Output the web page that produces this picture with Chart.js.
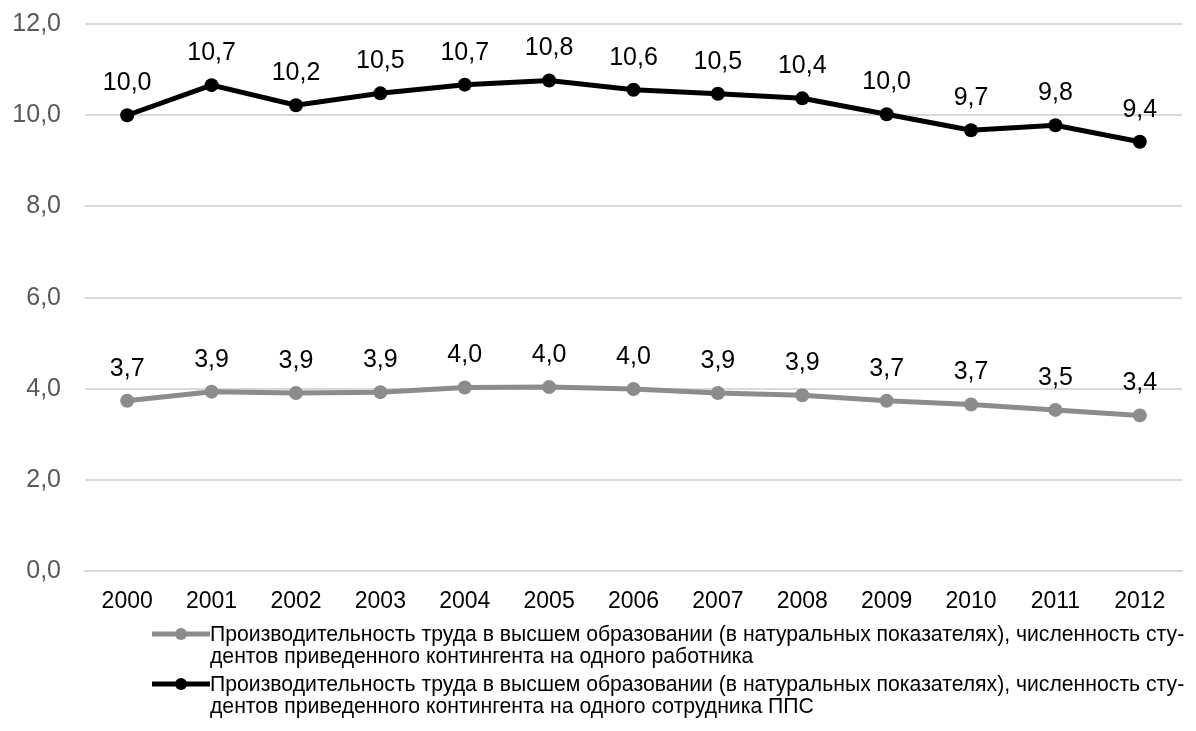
<!DOCTYPE html>
<html lang="ru">
<head>
<meta charset="utf-8">
<script src="https://cdn.jsdelivr.net/npm/chart.js@4.4.0/dist/chart.umd.min.js"></script>
<style>
    body { margin: 0; background: #fff; font-family: "Liberation Sans", Arial, sans-serif; overflow: hidden; }
    #wrap { position: absolute; left: 0; top: 0; width: 1196px; height: 631px; }
    #legend { position: absolute; left: 152px; top: 623px; width: 1044px; }
    .item { display: flex; align-items: flex-start; margin-bottom: 6px; }
    .item canvas { flex: none; margin-top: 3px; }
    .item span { font-size: 21.2px; line-height: 22px; color: #000; white-space: nowrap; }
</style>
</head>
<body>
<div id="wrap"><canvas id="chart"></canvas></div>
<div id="legend"></div>
<script>
// Years and series
const years = ['2000', '2001', '2002', '2003', '2004', '2005', '2006', '2007', '2008', '2009', '2010', '2011', '2012'];
const perWorker = [3.74, 3.94, 3.91, 3.93, 4.03, 4.04, 4.0, 3.91, 3.86, 3.74, 3.66, 3.54, 3.42];
const perTeacher = [10.0, 10.66, 10.22, 10.48, 10.67, 10.76, 10.56, 10.47, 10.37, 10.02, 9.67, 9.78, 9.42];
const yTicks = [0, 2, 4, 6, 8, 10, 12];
const seriesNames = [
    'Производительность труда в высшем образовании (в натуральных показателях), численность сту-\nдентов приведенного контингента на одного работника',
    'Производительность труда в высшем образовании (в натуральных показателях), численность сту-\nдентов приведенного контингента на одного сотрудника ППС'
];
const seriesColors = ['#8c8c8c', '#000000'];

const fmt = v => v.toFixed(1).replace('.', ',');

// Draw the value labels above each point
const valueLabels = {
    id: 'valueLabels',
    afterDatasetsDraw(chart) {
        const ctx = chart.ctx;
        ctx.save();
        ctx.font = '25px "Liberation Sans", Arial, sans-serif';
        ctx.fillStyle = '#000';
        ctx.textAlign = 'center';
        ctx.textBaseline = 'middle';
        chart.data.datasets.forEach((ds, i) => {
            chart.getDatasetMeta(i).data.forEach((pt, j) => {
                ctx.fillText(fmt(ds.data[j]), pt.x, pt.y - 32);
            });
        });
        ctx.restore();
    }
};

const chart = new Chart(document.getElementById('chart').getContext('2d'), {
    type: 'line',
    data: {
        labels: years,
        datasets: [0, 1].map(i => ({
            label: seriesNames[i],
            data: i === 0 ? perWorker : perTeacher,
            borderColor: seriesColors[i],
            backgroundColor: seriesColors[i],
            borderWidth: 5,
            pointRadius: 7,
            pointBorderWidth: 0,
            pointBackgroundColor: seriesColors[i],
            tension: 0
        }))
    },
    options: {
        responsive: true,
        maintainAspectRatio: false,
        animation: false,
        layout: { padding: { top: 24, left: 12, right: 14, bottom: 0 } },
        plugins: {
            legend: { display: false },
            tooltip: { enabled: false }
        },
        scales: {
            x: {
                offset: true,
                grid: { display: false, drawTicks: false },
                border: { color: '#d9d9d9', width: 2 },
                ticks: {
                    padding: 16,
                    maxRotation: 0,
                    color: '#000',
                    font: { family: '"Liberation Sans", Arial, sans-serif', size: 23 }
                }
            },
            y: {
                min: 0,
                max: 12,
                afterBuildTicks: axis => { axis.ticks = yTicks.map(v => ({ value: v })); },
                afterFit: axis => {
                    axis.width = 73;
                    axis.paddingTop = 12;
                    axis.paddingBottom = 12;
                },
                grid: { color: '#d9d9d9', lineWidth: 2, drawTicks: false },
                border: { display: false },
                ticks: {
                    padding: 24,
                    color: '#595959',
                    font: { family: '"Liberation Sans", Arial, sans-serif', size: 25 },
                    callback: v => fmt(v)
                }
            }
        }
    },
    plugins: [valueLabels]
});

// Legend built from the datasets, text wraps like the original
const legendBox = document.getElementById('legend');
chart.data.datasets.forEach(ds => {
    const item = document.createElement('div');
    item.className = 'item';
    const sw = document.createElement('canvas');
    sw.width = 58; sw.height = 16;
    const c = sw.getContext('2d');
    c.strokeStyle = ds.borderColor; c.lineWidth = 5;
    c.beginPath(); c.moveTo(0, 8); c.lineTo(58, 8); c.stroke();
    c.fillStyle = ds.borderColor;
    c.beginPath(); c.arc(29, 8, 6, 0, Math.PI * 2); c.fill();
    const txt = document.createElement('span');
    txt.innerHTML = ds.label.split('\n').join('<br>');
    item.appendChild(sw);
    item.appendChild(txt);
    legendBox.appendChild(item);
});
</script>
</body>
</html>
